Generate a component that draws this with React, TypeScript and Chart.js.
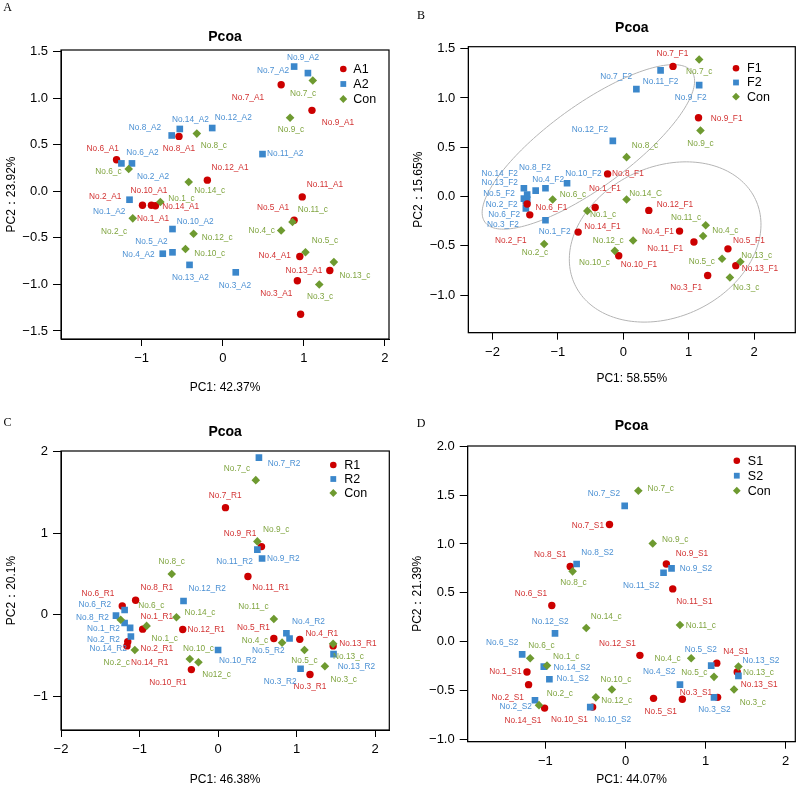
import React, { useEffect, useRef } from 'react';
import { Chart, registerables } from 'chart.js';

Chart.register(...registerables);

const SANS = '"Liberation Sans", Arial, Helvetica, sans-serif';
const SERIF = '"Liberation Serif", "Times New Roman", serif';
const MARK_COLORS = ['#CC0000', '#3B87CB', '#6E9A30'];
const TEXT_COLORS = ['#D23232', '#4B90D3', '#7FA43F'];
const SHAPES = ['circle', 'rect', 'rectRot'];
const RADII = [3.7, 4.7, 4.3];

type P = [number, number];
type L = [string, number, number];

// ---------------- Panel A ----------------
const A_series = ['A1', 'A2', 'Con'];
const A_A1: P[] = [[0.72, 1.145], [1.10, 0.87], [-0.54, 0.59], [-1.31, 0.34], [-0.19, 0.12], [0.98, -0.06], [-0.99, -0.15], [-0.88, -0.15], [-0.83, -0.155], [0.88, -0.31], [0.95, -0.70], [1.32, -0.85], [0.92, -0.96], [0.96, -1.32]];
const A_A2: P[] = [[0.88, 1.34], [1.05, 1.27], [-0.63, 0.60], [-0.53, 0.67], [-0.13, 0.68], [0.49, 0.40], [-1.25, 0.30], [-1.12, 0.30], [-1.15, -0.09], [-0.62, -0.405], [-0.62, -0.655], [-0.74, -0.67], [-0.41, -0.79], [0.16, -0.87]];
const A_Con: P[] = [[1.11, 1.19], [0.83, 0.79], [-0.32, 0.62], [-1.16, 0.24], [-0.42, 0.10], [-0.77, -0.115], [-1.11, -0.29], [-0.36, -0.455], [-0.46, -0.62], [0.86, -0.33], [0.72, -0.42], [1.02, -0.655], [1.37, -0.76], [1.19, -1.0]];
const A_A1_lab: L[] = [['No.7_A1', 0.31, 1.01], ['No.9_A1', 1.42, 0.74], ['No.8_A1', -0.54, 0.46], ['No.6_A1', -1.48, 0.46], ['No.12_A1', 0.09, 0.25], ['No.11_A1', 1.26, 0.07], ['No.10_A1', -0.91, 0.01], ['No.2_A1', -1.45, -0.06], ['No.14_A1', -0.52, -0.17], ['No.1_A1', -0.86, -0.29], ['No.5_A1', 0.62, -0.18], ['No.4_A1', 0.64, -0.69], ['No.13_A1', 1.00, -0.85], ['No.3_A1', 0.66, -1.10]];
const A_A2_lab: L[] = [['No.7_A2', 0.62, 1.30], ['No.9_A2', 0.99, 1.44], ['No.8_A2', -0.96, 0.68], ['No.14_A2', -0.40, 0.77], ['No.12_A2', 0.13, 0.79], ['No.11_A2', 0.77, 0.40], ['No.6_A2', -0.99, 0.42], ['No.2_A2', -0.86, 0.16], ['No.1_A2', -1.40, -0.22], ['No.10_A2', -0.34, -0.33], ['No.5_A2', -0.88, -0.54], ['No.4_A2', -1.04, -0.68], ['No.13_A2', -0.40, -0.93], ['No.3_A2', 0.15, -1.01]];
const A_Con_lab: L[] = [['No.7_c', 0.99, 1.05], ['No.9_c', 0.84, 0.66], ['No.8_c', -0.11, 0.49], ['No.6_c', -1.41, 0.21], ['No.14_c', -0.16, 0.01], ['No.1_c', -0.51, -0.08], ['No.2_c', -1.34, -0.43], ['No.12_c', -0.07, -0.50], ['No.10_c', -0.16, -0.67], ['No.11_c', 1.11, -0.20], ['No.4_c', 0.48, -0.42], ['No.5_c', 1.26, -0.53], ['No.13_c', 1.63, -0.91], ['No.3_c', 1.20, -1.13]];
const A_xTicks = [-1, 0, 1, 2];
const A_yTicks = [-1.5, -1, -0.5, 0, 0.5, 1, 1.5];

// ---------------- Panel B ----------------
const B_series = ['F1', 'F2', 'Con'];
const B_F1: P[] = [[0.76, 1.32], [1.15, 0.80], [-0.24, 0.23], [-0.43, -0.11], [0.39, -0.14], [-1.43, -0.185], [-1.47, -0.075], [-0.69, -0.36], [0.86, -0.35], [1.08, -0.46], [1.60, -0.53], [-0.07, -0.60], [1.72, -0.70], [1.29, -0.80]];
const B_F2: P[] = [[0.57, 1.28], [0.20, 1.09], [1.16, 1.13], [-0.16, 0.565], [-0.86, 0.135], [-1.19, 0.085], [-1.34, 0.06], [-1.52, 0.085], [-1.47, 0.02], [-1.52, -0.02], [-1.49, -0.05], [-1.49, -0.12], [-1.47, -0.03], [-1.19, -0.24]];
const B_Con: P[] = [[1.16, 1.39], [1.18, 0.67], [0.05, 0.40], [-1.08, -0.03], [0.05, -0.03], [-0.55, -0.145], [-1.21, -0.48], [0.15, -0.445], [-0.13, -0.55], [1.26, -0.29], [1.22, -0.40], [1.51, -0.63], [1.79, -0.66], [1.63, -0.82]];
const B_F1_lab: L[] = [['No.7_F1', 0.75, 1.45], ['No.9_F1', 1.58, 0.79], ['No.8_F1', 0.07, 0.23], ['No.1_F1', -0.28, 0.08], ['No.12_F1', 0.79, -0.08], ['No.6_F1', -1.10, -0.11], ['No.2_F1', -1.72, -0.45], ['No.14_F1', -0.32, -0.31], ['No.4_F1', 0.53, -0.355], ['No.11_F1', 0.64, -0.53], ['No.5_F1', 1.92, -0.45], ['No.10_F1', 0.24, -0.69], ['No.13_F1', 2.09, -0.73], ['No.3_F1', 0.96, -0.92]];
const B_F2_lab: L[] = [['No.7_F2', -0.11, 1.22], ['No.11_F2', 0.57, 1.16], ['No.9_F2', 1.03, 1.00], ['No.12_F2', -0.51, 0.68], ['No.10_F2', -0.61, 0.23], ['No.4_F2', -1.15, 0.17], ['No.8_F2', -1.35, 0.29], ['No.14_F2', -1.89, 0.23], ['No.13_F2', -1.89, 0.14], ['No.5_F2', -1.90, 0.03], ['No.2_F2', -1.86, -0.08], ['No.6_F2', -1.82, -0.18], ['No.3_F2', -1.84, -0.29], ['No.1_F2', -1.05, -0.36]];
const B_Con_lab: L[] = [['No.7_c', 1.16, 1.27], ['No.9_c', 1.18, 0.54], ['No.8_c', 0.33, 0.52], ['No.6_c', -0.77, 0.02], ['No.14_C', 0.34, 0.03], ['No.1_c', -0.31, -0.18], ['No.2_c', -1.35, -0.57], ['No.12_c', -0.23, -0.45], ['No.10_c', -0.44, -0.675], ['No.11_c', 0.96, -0.21], ['No.4_c', 1.56, -0.35], ['No.5_c', 1.20, -0.66], ['No.13_c', 2.04, -0.60], ['No.3_c', 1.88, -0.92]];
// ellipses: [centerX, centerY, axis1X, axis1Y, axis2X, axis2Y] in data units
const B_ellipses: number[][] = [[-0.534, 0.504, 1.582, 0.763, 0.368, -0.337], [0.64, -0.46, 1.383, 0.429, 0.484, -0.690]];
const B_xTicks = [-2, -1, 0, 1, 2];
const B_yTicks = [-1, -0.5, 0, 0.5, 1, 1.5];

// ---------------- Panel C ----------------
const C_series = ['R1', 'R2', 'Con'];
const C_R1: P[] = [[0.094, 1.313], [0.553, 0.836], [0.38, 0.47], [-1.05, 0.18], [-1.22, 0.11], [-0.96, -0.175], [-1.15, -0.33], [-1.16, -0.38], [-0.45, -0.18], [-0.34, -0.67], [0.71, -0.29], [1.04, -0.30], [1.465, -0.38], [1.17, -0.73]];
const C_R2: P[] = [[0.52, 1.925], [0.50, 0.80], [0.56, 0.69], [-0.44, 0.17], [-1.19, 0.06], [-1.30, -0.01], [-1.19, -0.10], [-1.12, -0.16], [-1.11, -0.265], [0.0, -0.43], [0.87, -0.225], [0.91, -0.29], [1.05, -0.66], [1.47, -0.48]];
const C_Con: P[] = [[0.48, 1.65], [0.50, 0.90], [-0.59, 0.50], [-1.24, -0.06], [-0.91, -0.135], [-0.53, -0.03], [-1.06, -0.43], [-0.36, -0.54], [-0.25, -0.58], [0.71, -0.05], [0.815, -0.34], [1.10, -0.43], [1.465, -0.355], [1.36, -0.63]];
const C_R1_lab: L[] = [['No.7_R1', 0.09, 1.46], ['No.9_R1', 0.28, 0.99], ['No.11_R1', 0.67, 0.33], ['No.8_R1', -0.78, 0.33], ['No.6_R1', -1.53, 0.26], ['No.1_R1', -0.78, -0.02], ['No.2_R1', -0.78, -0.41], ['No.14_R1', -0.87, -0.58], ['No.12_R1', -0.15, -0.18], ['No.10_R1', -0.64, -0.83], ['No.5_R1', 0.45, -0.16], ['No.4_R1', 1.32, -0.23], ['No.13_R1', 1.78, -0.355], ['No.3_R1', 1.17, -0.885]];
const C_R2_lab: L[] = [['No.7_R2', 0.84, 1.85], ['No.11_R2', 0.21, 0.645], ['No.9_R2', 0.83, 0.685], ['No.12_R2', -0.14, 0.32], ['No.6_R2', -1.57, 0.12], ['No.8_R2', -1.60, -0.04], ['No.1_R2', -1.46, -0.175], ['No.2_R2', -1.46, -0.31], ['No.14_R2', -1.40, -0.42], ['No.10_R2', 0.25, -0.56], ['No.4_R2', 1.15, -0.08], ['No.5_R2', 0.64, -0.44], ['No.3_R2', 0.79, -0.82], ['No.13_R2', 1.76, -0.63]];
const C_Con_lab: L[] = [['No.7_c', 0.24, 1.795], ['No.9_c', 0.74, 1.04], ['No.8_c', -0.59, 0.645], ['No.6_c', -0.85, 0.11], ['No.1_c', -0.68, -0.29], ['No.14_c', -0.23, 0.03], ['No.2_c', -1.29, -0.59], ['No.10_c', -0.25, -0.42], ['No12_c', -0.02, -0.73], ['No.11_c', 0.45, 0.10], ['No.4_c', 0.47, -0.32], ['No.5_c', 1.10, -0.56], ['No.13_c', 1.66, -0.51], ['No.3_c', 1.60, -0.79]];
const C_xTicks = [-2, -1, 0, 1, 2];
const C_yTicks = [-1, 0, 1, 2];

// ---------------- Panel D ----------------
const D_series = ['S1', 'S2', 'Con'];
const D_S1: P[] = [[-0.20, 1.20], [-0.69, 0.77], [0.51, 0.795], [0.59, 0.54], [-0.92, 0.37], [0.18, -0.14], [-1.23, -0.31], [-1.21, -0.44], [-1.01, -0.68], [-0.41, -0.67], [0.35, -0.58], [0.71, -0.59], [1.14, -0.22], [1.395, -0.31], [1.15, -0.57]];
const D_S2: P[] = [[-0.01, 1.39], [-0.61, 0.795], [0.575, 0.75], [0.475, 0.705], [-0.88, 0.085], [-1.29, -0.13], [-1.02, -0.255], [-0.95, -0.385], [-1.13, -0.60], [-0.44, -0.67], [1.07, -0.245], [0.68, -0.44], [1.105, -0.57], [1.41, -0.35]];
const D_Con: P[] = [[0.16, 1.545], [0.34, 1.005], [-0.66, 0.72], [-0.49, 0.14], [0.68, 0.17], [-1.19, -0.17], [-0.98, -0.245], [-1.08, -0.65], [-0.17, -0.49], [-0.37, -0.57], [0.82, -0.17], [1.105, -0.36], [1.41, -0.255], [1.355, -0.49]];
const D_S1_lab: L[] = [['No.7_S1', -0.47, 1.19], ['No.8_S1', -0.94, 0.89], ['No.9_S1', 0.83, 0.905], ['No.11_S1', 0.86, 0.41], ['No.6_S1', -1.18, 0.49], ['No.12_S1', -0.10, -0.02], ['No.1_S1', -1.50, -0.31], ['No.2_S1', -1.47, -0.57], ['No.14_S1', -1.28, -0.81], ['No.10_S1', -0.70, -0.80], ['No.5_S1', 0.44, -0.72], ['No.3_S1', 0.88, -0.52], ['N4_S1', 1.38, -0.10], ['No.13_S1', 1.67, -0.44]];
const D_S2_lab: L[] = [['No.7_S2', -0.27, 1.51], ['No.8_S2', -0.35, 0.915], ['No.9_S2', 0.88, 0.75], ['No.11_S2', 0.195, 0.57], ['No.12_S2', -0.94, 0.205], ['No.6_S2', -1.54, -0.01], ['No.14_S2', -0.67, -0.27], ['No.1_S2', -0.66, -0.38], ['No.2_S2', -1.37, -0.67], ['No.10_S2', -0.16, -0.80], ['No.5_S2', 0.94, -0.085], ['No.4_S2', 0.42, -0.31], ['No.3_S2', 1.11, -0.70], ['No.13_S2', 1.69, -0.19]];
const D_Con_lab: L[] = [['No.7_c', 0.44, 1.57], ['No.9_c', 0.62, 1.04], ['No.8_c', -0.65, 0.60], ['No.14_c', -0.24, 0.26], ['No.11_c', 0.94, 0.16], ['No.6_c', -1.05, -0.04], ['No.1_c', -0.74, -0.15], ['No.2_c', -0.82, -0.535], ['No.10_c', -0.12, -0.385], ['No.12_c', -0.11, -0.60], ['No.4_c', 0.525, -0.17], ['No.5_c', 0.86, -0.32], ['No.13_c', 1.66, -0.32], ['No.3_c', 1.59, -0.62]];
const D_xTicks = [-1, 0, 1, 2];
const D_yTicks = [-1, -0.5, 0, 0.5, 1, 1.5, 2];

type Cfg = {
  letter: string;
  series: string[];
  pts: P[][];
  labels: L[][];
  order: number[];
  ellipses: number[][];
  xTicks: number[];
  yTicks: number[];
  yDigits: number;
  xTitle: string;
  yTitle: string;
  xRange: [number, number];
  yRange: [number, number];
  // layout (px in canvas)
  pos: [number, number, number, number]; // left, top, width, height
  area: [number, number, number, number]; // left, right, top, bottom
  titleY: number;
  xTitleY: number;
  yTitleX: number;
  legend: [number, number, number, number]; // dx from right, dy from top, row gap, text offset
  letterPos: [number, number];
};

const PANELS: Cfg[] = [
  {
    letter: 'A', series: A_series, pts: [A_A1, A_A2, A_Con], labels: [A_A1_lab, A_A2_lab, A_Con_lab],
    order: [2, 1, 0], ellipses: [], xTicks: A_xTicks, yTicks: A_yTicks, yDigits: 1,
    xTitle: 'PC1: 42.37%', yTitle: 'PC2\uFF1A23.92%', xRange: [-1.995, 2.05], yRange: [-1.586, 1.518],
    pos: [0, 0, 400, 400], area: [61, 389, 50, 339], titleY: 36.7, xTitleY: 388, yTitleX: 11.7,
    legend: [45.7, 19, 15, 10], letterPos: [7.5, 7.5],
  },
  {
    letter: 'B', series: B_series, pts: [B_F1, B_F2, B_Con], labels: [B_F1_lab, B_F2_lab, B_Con_lab],
    order: [1, 2, 0], ellipses: B_ellipses, xTicks: B_xTicks, yTicks: B_yTicks, yDigits: 1,
    xTitle: 'PC1: 58.55%', yTitle: 'PC2\uFF1A15.65%', xRange: [-2.37, 2.63], yRange: [-1.38, 1.52],
    pos: [400, 0, 400, 400], area: [68.3, 396, 46.7, 332.7], titleY: 28.3, xTitleY: 379, yTitleX: 19,
    legend: [59.3, 21.6, 14.2, 11], letterPos: [21, 16],
  },
  {
    letter: 'C', series: C_series, pts: [C_R1, C_R2, C_Con], labels: [C_R1_lab, C_R2_lab, C_Con_lab],
    order: [2, 1, 0], ellipses: [], xTicks: C_xTicks, yTicks: C_yTicks, yDigits: 0,
    xTitle: 'PC1: 46.38%', yTitle: 'PC2\uFF1A20.1%', xRange: [-2, 2.18], yRange: [-1.41, 2.007],
    pos: [0, 393, 400, 394], area: [61, 389.3, 58, 337], titleY: 38.7, xTitleY: 386.3, yTitleX: 12,
    legend: [56, 14, 14, 11], letterPos: [7.5, 29.5],
  },
  {
    letter: 'D', series: D_series, pts: [D_S1, D_S2, D_Con], labels: [D_S1_lab, D_S2_lab, D_Con_lab],
    order: [2, 1, 0], ellipses: [], xTicks: D_xTicks, yTicks: D_yTicks, yDigits: 1,
    xTitle: 'PC1: 44.07%', yTitle: 'PC2\uFF1A21.39%', xRange: [-1.97, 2.12], yRange: [-1.024, 2.003],
    pos: [400, 393, 400, 394], area: [67.7, 396.7, 53, 348.7], titleY: 33, xTitleY: 386.3, yTitleX: 17.5,
    legend: [58.5, 14.7, 15, 11], letterPos: [21, 30.5],
  },
];

function drawMarker(ctx: CanvasRenderingContext2D, shape: string, x: number, y: number, r: number, color: string) {
  ctx.save();
  ctx.fillStyle = color;
  ctx.beginPath();
  if (shape === 'circle') {
    ctx.arc(x, y, r, 0, Math.PI * 2);
  } else if (shape === 'rect') {
    const s = r * Math.SQRT1_2;
    ctx.rect(x - s, y - s, 2 * s, 2 * s);
  } else {
    ctx.moveTo(x - r, y);
    ctx.lineTo(x, y - r);
    ctx.lineTo(x + r, y);
    ctx.lineTo(x, y + r);
    ctx.closePath();
  }
  ctx.fill();
  ctx.restore();
}

const fmt = (v: number, digits: number) => v.toFixed(digits).replace('-', '\u2212');

function Panel({ cfg }: { cfg: Cfg }) {
  const ref = useRef<HTMLCanvasElement>(null);
  useEffect(() => {
    const canvas = ref.current;
    if (!canvas) return;
    const [, , W, H] = cfg.pos;
    const [aL, aR, aT, aB] = cfg.area;

    const decor = {
      id: 'decor',
      beforeDatasetsDraw(chart: any) {
        const ctx = chart.ctx as CanvasRenderingContext2D;
        const xs = chart.scales.x;
        const ys = chart.scales.y;
        ctx.save();
        ctx.strokeStyle = '#B4B4B4';
        ctx.lineWidth = 1;
        for (const e of cfg.ellipses) {
          const [cx, cy, ux, uy, vx, vy] = e;
          ctx.beginPath();
          for (let i = 0; i <= 180; i++) {
            const t = (i / 180) * Math.PI * 2;
            const px = xs.getPixelForValue(cx + ux * Math.cos(t) + vx * Math.sin(t));
            const py = ys.getPixelForValue(cy + uy * Math.cos(t) + vy * Math.sin(t));
            if (i === 0) ctx.moveTo(px, py);
            else ctx.lineTo(px, py);
          }
          ctx.closePath();
          ctx.stroke();
        }
        ctx.restore();
      },
      afterDatasetsDraw(chart: any) {
        const ctx = chart.ctx as CanvasRenderingContext2D;
        const xs = chart.scales.x;
        const ys = chart.scales.y;
        const ca = chart.chartArea;
        ctx.save();
        // point labels
        ctx.font = `8.3px ${SANS}`;
        ctx.textAlign = 'center';
        ctx.textBaseline = 'middle';
        cfg.labels.forEach((labs, si) => {
          ctx.fillStyle = TEXT_COLORS[si];
          for (const [txt, lx, ly] of labs) {
            ctx.fillText(txt, xs.getPixelForValue(lx), ys.getPixelForValue(ly));
          }
        });
        // box
        ctx.strokeStyle = '#000';
        ctx.lineWidth = 1.2;
        ctx.strokeRect(ca.left, ca.top, ca.right - ca.left, ca.bottom - ca.top);
        // legend
        const [dx, dy, gap, tOff] = cfg.legend;
        const mx = ca.right - dx;
        ctx.font = `12.5px ${SANS}`;
        ctx.textAlign = 'left';
        ctx.textBaseline = 'middle';
        cfg.series.forEach((name, i) => {
          const y = ca.top + dy + i * gap;
          drawMarker(ctx, SHAPES[i], mx, y, [3.3, 4.1, 3.9][i], MARK_COLORS[i]);
          ctx.fillStyle = '#000';
          ctx.fillText(name, mx + tOff, y + 0.5);
        });
        // panel letter
        ctx.font = `12px ${SERIF}`;
        ctx.textAlign = 'center';
        ctx.fillStyle = '#000';
        ctx.fillText(cfg.letter, cfg.letterPos[0], cfg.letterPos[1]);
        ctx.restore();
      },
    };

    const tickFont = { family: SANS, size: 13 };
    const titleFont = { family: SANS, size: 12 };

    const chart = new Chart(canvas, {
      type: 'scatter',
      data: {
        datasets: cfg.series.map((name, i) => ({
          label: name,
          data: cfg.pts[i].map(([x, y]) => ({ x, y })),
          pointStyle: SHAPES[i] as any,
          pointRadius: RADII[i],
          pointHoverRadius: RADII[i],
          pointBackgroundColor: MARK_COLORS[i],
          pointBorderColor: MARK_COLORS[i],
          pointBorderWidth: 0,
          backgroundColor: MARK_COLORS[i],
          borderColor: MARK_COLORS[i],
          order: cfg.order[i],
        })),
      },
      options: {
        animation: false,
        responsive: false,
        events: [],
        layout: { padding: { left: 0, right: W - aR, top: 0, bottom: 0 } },
        plugins: {
          legend: { display: false },
          tooltip: { enabled: false },
          title: {
            display: true,
            text: 'Pcoa',
            fullSize: false,
            color: '#000',
            font: { family: SANS, size: 14, weight: 'bold' },
            padding: { top: cfg.titleY - 8.4, bottom: aT - cfg.titleY - 8.4 },
          },
        },
        scales: {
          x: {
            type: 'linear',
            min: cfg.xRange[0],
            max: cfg.xRange[1],
            bounds: 'data',
            afterBuildTicks: (s: any) => { s.ticks = cfg.xTicks.map((v) => ({ value: v })); },
            afterFit: (s: any) => { s.height = H - aB; },
            ticks: {
              font: tickFont, color: '#000', padding: 5, maxRotation: 0, autoSkip: false,
              callback: (v: any) => fmt(Number(v), 0),
            },
            grid: { drawOnChartArea: false, drawTicks: true, tickLength: 7, color: '#000', lineWidth: 1 },
            border: { display: true, color: '#000', width: 1 },
            title: {
              display: true, text: cfg.xTitle, color: '#000', font: titleFont,
              padding: { top: 0, bottom: H - cfg.xTitleY - 7.2 },
            },
          },
          y: {
            type: 'linear',
            min: cfg.yRange[0],
            max: cfg.yRange[1],
            bounds: 'data',
            afterBuildTicks: (s: any) => { s.ticks = cfg.yTicks.map((v) => ({ value: v })); },
            afterFit: (s: any) => { s.width = aL; },
            ticks: {
              font: tickFont, color: '#000', padding: 5, autoSkip: false,
              callback: (v: any) => fmt(Number(v), cfg.yDigits),
            },
            grid: { drawOnChartArea: false, drawTicks: true, tickLength: 8, color: '#000', lineWidth: 1 },
            border: { display: true, color: '#000', width: 1 },
            title: {
              display: true, text: cfg.yTitle, color: '#000', font: titleFont,
              padding: { top: cfg.yTitleX - 7.2, bottom: 0 },
            },
          },
        },
      } as any,
      plugins: [decor],
    });
    return () => chart.destroy();
  }, [cfg]);

  const [left, top, W, H] = cfg.pos;
  return (
    <canvas
      ref={ref}
      width={W}
      height={H}
      style={{ position: 'absolute', left, top, width: W, height: H }}
    />
  );
}

export default function App() {
  return (
    <div style={{ position: 'absolute', left: 0, top: 0, width: 800, height: 787, background: '#fff', overflow: 'hidden' }}>
      {PANELS.map((p) => (
        <Panel key={p.letter} cfg={p} />
      ))}
    </div>
  );
}
